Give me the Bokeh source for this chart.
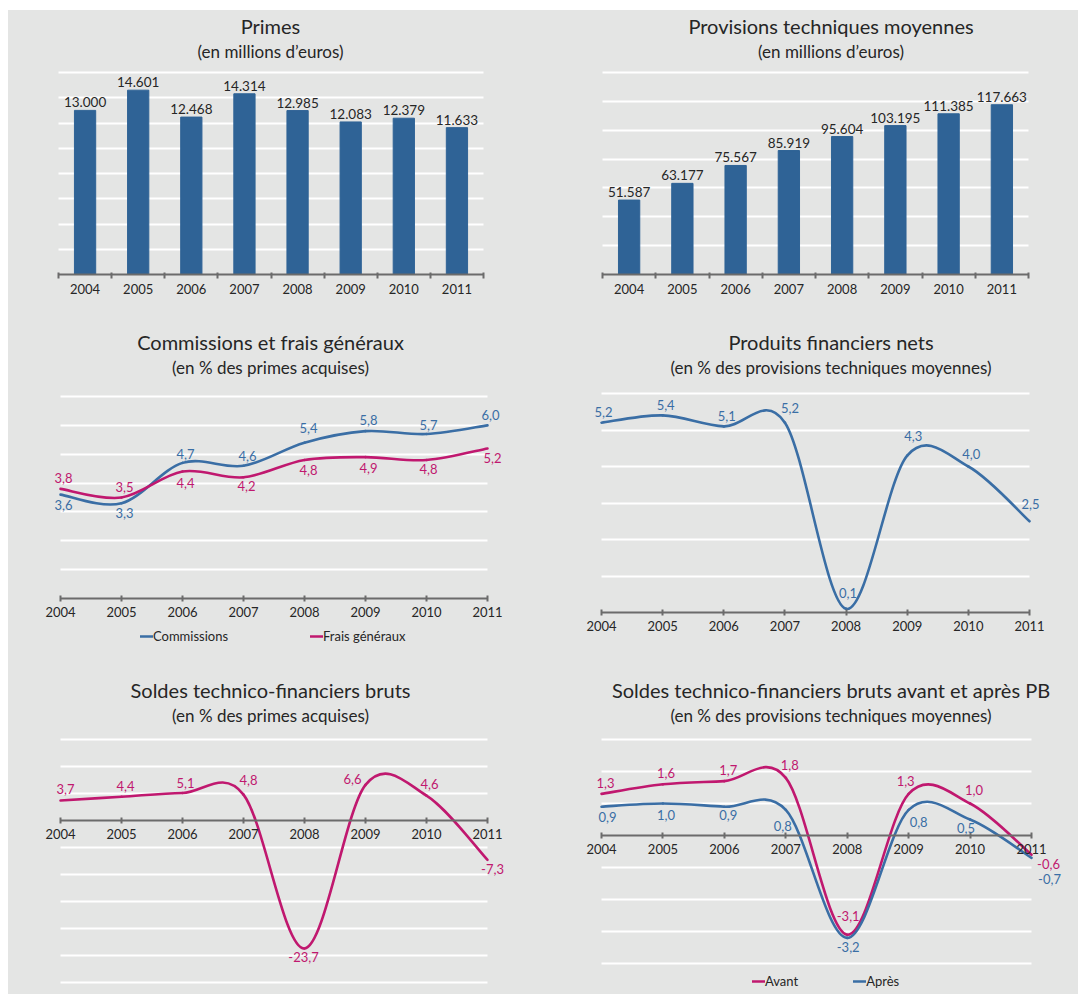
from bokeh.plotting import figure
from bokeh.layouts import column, row
from bokeh.models import (ColumnDataSource, FixedTicker, Title, LabelSet, Legend,
                          LegendItem, Range1d, Spacer)
from bokeh.core.properties import value
from bokeh.embed import file_html
from bokeh.resources import INLINE

# ---------------- data ----------------
years = [2004, 2005, 2006, 2007, 2008, 2009, 2010, 2011]
primes = [13000, 14601, 12468, 14314, 12985, 12083, 12379, 11633]
provisions = [51587, 63177, 75567, 85919, 95604, 103195, 111385, 117663]
commissions = [3.6, 3.3, 4.7, 4.6, 5.4, 5.8, 5.7, 6.0]
frais_generaux = [3.8, 3.5, 4.4, 4.2, 4.8, 4.9, 4.8, 5.2]
produits_financiers = [5.2, 5.4, 5.1, 5.2, 0.1, 4.3, 4.0, 2.5]
soldes_bruts = [3.7, 4.4, 5.1, 4.8, -23.7, 6.6, 4.6, -7.3]
soldes_avant = [1.3, 1.6, 1.7, 1.8, -3.1, 1.3, 1.0, -0.6]
soldes_apres = [0.9, 1.0, 0.9, 0.8, -3.2, 0.8, 0.5, -0.7]

# ---------------- label placement (pixels, style only) ----------------
off_comm = [(3, -10), (3, -10), (3, 9), (4, 10), (4, 15), (3, 11), (2, 9), (3, 10)]
off_frais = [(3, 11), (3, 11), (3, -11), (3, -9), (4, -10), (3, -11), (2, -9), (5, -10)]
off_prod = [(2, 11), (3, 10), (3, 10), (5, 15), (2, 16), (6, 20), (3, 13), (1, 17)]
off_soldes = [(5, 12), (4, 11), (3, 10), (5, 15), (-1, -9), (-13, 6), (3, 12), (5, -9)]
off_avant = [(4, 11), (3, 11), (4, 11), (4, 13), (1, 19), (-3, 13), (4, 14), (17, -9)]
off_apres = [(6, -10), (3, -11), (4, -8), (-3, -16), (1, -9), (10, -12), (-4, -8), (18, -21)]

# ---------------- page geometry (pixels) ----------------
COLS = [(8, 540), (540, 1078)]          # canvas x extents
ROWS = [(10, 320), (320, 670), (670, 994)]  # canvas y extents
FRAME_X = [(30, 510), (585, 1076)]      # plotting frame x extents
FRAME_Y = [(62, 274), (378, 664), (726, 990)]  # plotting frame y extents (top, bottom)

BG = "#e4e5e4"
BAR_BLUE = "#2f6396"
BLUE = "#3a6ea5"
MAGENTA = "#c0186f"
AXIS = "#6b6b6b"
TXT = "#262626"
FONT = "Lato"
NUM_SIZE = "13px"


def fr_num(v):
    return ("%.1f" % v).replace(".", ",")


def thousands(v):
    return f"{v:,}".replace(",", ".")


def span(lo_px, hi_px, v1, p1, v2, p2):
    """Range (start, end) so that value v1 sits at pixel p1 and v2 at p2."""
    s = (p2 - p1) / (v2 - v1)
    a = v1 + (lo_px - p1) / s
    b = v1 + (hi_px - p1) / s
    return (min(a, b), max(a, b))


def base(ci, ri, xcal, ycal, grid_ticks, data_x):
    cx0, cx1 = COLS[ci]
    cy0, cy1 = ROWS[ri]
    fx0, fx1 = FRAME_X[ci]
    fy0, fy1 = FRAME_Y[ri]
    xs, xe = span(fx0, fx1, *xcal)
    ys, ye = span(fy1, fy0, *ycal)
    p = figure(width=cx1 - cx0, height=cy1 - cy0,
               x_range=Range1d(xs, xe), y_range=Range1d(ys, ye),
               output_backend="svg", toolbar_location=None, title=None,
               y_axis_location=None,
               min_border_left=fx0 - cx0, min_border_right=cx1 - fx1,
               min_border_top=fy0 - cy0, min_border_bottom=cy1 - fy1)
    p.background_fill_color = None
    p.border_fill_color = BG
    p.outline_line_color = None
    p.xgrid.visible = False
    g = p.ygrid[0]
    g.ticker = FixedTicker(ticks=grid_ticks)
    g.grid_line_color = "white"
    g.grid_line_width = 2
    try:
        g.cross_bounds = data_x
    except Exception:
        pass
    ax = p.xaxis[0]
    ax.bounds = data_x
    ax.axis_line_color = AXIS
    ax.axis_line_width = 2
    ax.major_tick_line_color = AXIS
    ax.major_tick_line_width = 2
    ax.minor_tick_line_color = AXIS
    ax.minor_tick_line_width = 2
    ax.major_label_text_font = FONT
    ax.major_label_text_font_size = NUM_SIZE
    ax.major_label_text_color = TXT
    ax.major_label_standoff = 5
    return p


def add_titles(p, main, sub):
    p.add_layout(Title(text=sub, align="center", text_font=FONT,
                       text_font_size="17px", text_font_style="normal",
                       text_color=TXT, standoff=2), "above")
    p.add_layout(Title(text=main, align="center", text_font=FONT,
                       text_font_size="20px", text_font_style="normal",
                       text_color=TXT, standoff=0), "above")


def smooth(p, xs, ys, color):
    t = 1.0 / 6.0
    n = len(xs)
    d = dict(x0=[], y0=[], x1=[], y1=[], cx0=[], cy0=[], cx1=[], cy1=[])
    for i in range(n - 1):
        a = max(i - 1, 0)
        b = min(i + 2, n - 1)
        d["x0"].append(xs[i]); d["y0"].append(ys[i])
        d["x1"].append(xs[i + 1]); d["y1"].append(ys[i + 1])
        d["cx0"].append(xs[i] + (xs[i + 1] - xs[a]) * t)
        d["cy0"].append(ys[i] + (ys[i + 1] - ys[a]) * t)
        d["cx1"].append(xs[i + 1] - (xs[b] - xs[i]) * t)
        d["cy1"].append(ys[i + 1] - (ys[b] - ys[i]) * t)
    return p.bezier(x0="x0", y0="y0", x1="x1", y1="y1", cx0="cx0", cy0="cy0",
                    cx1="cx1", cy1="cy1", source=ColumnDataSource(d),
                    line_color=color, line_width=2.6, line_cap="round")


def point_labels(p, xs, ys, offs, color):
    src = ColumnDataSource(dict(x=xs, y=ys, t=[fr_num(v) for v in ys],
                                dx=[o[0] for o in offs], dy=[o[1] for o in offs]))
    p.add_layout(LabelSet(x="x", y="y", text="t", x_offset="dx", y_offset="dy",
                          source=src, text_align="center", text_baseline="middle",
                          text_font=value(FONT), text_font_size=NUM_SIZE,
                          text_color=color))


def line_axis(p):
    ax = p.xaxis[0]
    ax.ticker = FixedTicker(ticks=years)
    ax.major_tick_in = 3
    ax.major_tick_out = 3
    ax.minor_tick_in = 0
    ax.minor_tick_out = 0
    ax.fixed_location = 0


def legend(p, ci, ri, items, left_px, mid_px, spacing):
    fx0 = FRAME_X[ci][0]
    fy1 = FRAME_Y[ri][1]
    leg = Legend(items=items, location=(left_px - fx0, fy1 - mid_px - 7),
                 orientation="horizontal", spacing=spacing,
                 glyph_width=13, glyph_height=14, label_height=14, label_standoff=0,
                 padding=0, margin=0, background_fill_alpha=0, border_line_alpha=0,
                 label_text_font=FONT, label_text_font_size=NUM_SIZE,
                 label_text_color=TXT)
    p.add_layout(leg, "center")


def bar_chart(ci, vals, xcal, ycal, ticks, main, sub):
    p = base(ci, 0, xcal, ycal, ticks, (2003.5, 2011.5))
    add_titles(p, main, sub)
    p.vbar(x=years, top=vals, width=0.4, color=BAR_BLUE)
    src = ColumnDataSource(dict(x=years, y=vals, t=[thousands(v) for v in vals]))
    p.add_layout(LabelSet(x="x", y="y", text="t", y_offset=3, source=src,
                          text_align="center", text_baseline="bottom",
                          text_font=value(FONT), text_font_size="13.5px",
                          text_color=TXT))
    ax = p.xaxis[0]
    ax.ticker = FixedTicker(ticks=years, minor_ticks=[y - 0.5 for y in years] + [2011.5])
    ax.major_tick_in = 0
    ax.major_tick_out = 0
    ax.minor_tick_in = 2
    ax.minor_tick_out = 4
    return p


# ---------------- row 1 : bars ----------------
p1 = bar_chart(0, primes, (2003.5, 58, 2011.5, 483), (0, 274, 16000, 72),
               list(range(0, 16001, 2000)), "Primes", "(en millions d\u2019euros)")
p2 = bar_chart(1, provisions, (2003.5, 602, 2011.5, 1028), (0, 274, 140000, 72),
               list(range(0, 140001, 20000)),
               "Provisions techniques moyennes", "(en millions d\u2019euros)")

# ---------------- row 2 ----------------
p3 = base(0, 1, (2004, 60, 2011, 487), (0, 598, 7, 396), list(range(1, 8)), (2004, 2011))
add_titles(p3, "Commissions et frais g\u00e9n\u00e9raux", "(en % des primes acquises)")
line_axis(p3)
r_comm = smooth(p3, years, commissions, BLUE)
r_frais = smooth(p3, years, frais_generaux, MAGENTA)
point_labels(p3, years, commissions, off_comm, BLUE)
point_labels(p3, years, frais_generaux, off_frais, MAGENTA)
legend(p3, 0, 1, [LegendItem(label="Commissions", renderers=[r_comm]),
                  LegendItem(label="Frais g\u00e9n\u00e9raux", renderers=[r_frais])],
       140, 637, 82)

p4 = base(1, 1, (2004, 601, 2011, 1029), (0, 612, 6, 393), list(range(1, 7)), (2004, 2011))
add_titles(p4, "Produits financiers nets", "(en % des provisions techniques moyennes)")
line_axis(p4)
smooth(p4, years, produits_financiers, BLUE)
point_labels(p4, years, produits_financiers, off_prod, BLUE)

# ---------------- row 3 ----------------
p5 = base(0, 2, (2004, 60, 2011, 487), (0, 820, -30, 982),
          [-30, -25, -20, -15, -10, -5, 5, 10, 15], (2004, 2011))
add_titles(p5, "Soldes technico-financiers bruts", "(en % des primes acquises)")
line_axis(p5)
smooth(p5, years, soldes_bruts, MAGENTA)
point_labels(p5, years, soldes_bruts, off_soldes, MAGENTA)

p6 = base(1, 2, (2004, 601, 2011, 1031), (0, 835, -4, 963),
          [-4, -3, -2, -1, 1, 2, 3], (2004, 2011))
add_titles(p6, "Soldes technico-financiers bruts avant et apr\u00e8s PB",
           "(en % des provisions techniques moyennes)")
line_axis(p6)
r_av = smooth(p6, years, soldes_avant, MAGENTA)
r_ap = smooth(p6, years, soldes_apres, BLUE)
point_labels(p6, years, soldes_avant, off_avant, MAGENTA)
point_labels(p6, years, soldes_apres, off_apres, BLUE)
legend(p6, 1, 2, [LegendItem(label="Avant", renderers=[r_av]),
                  LegendItem(label="Apr\u00e8s", renderers=[r_ap])],
       752, 982, 55)

grid = column(row(p1, p2), row(p3, p4), row(p5, p6),
              styles={"background-color": BG})
layout = row(Spacer(width=8), column(Spacer(height=10), grid))

open("out.html", "w").write(file_html(layout, INLINE))
